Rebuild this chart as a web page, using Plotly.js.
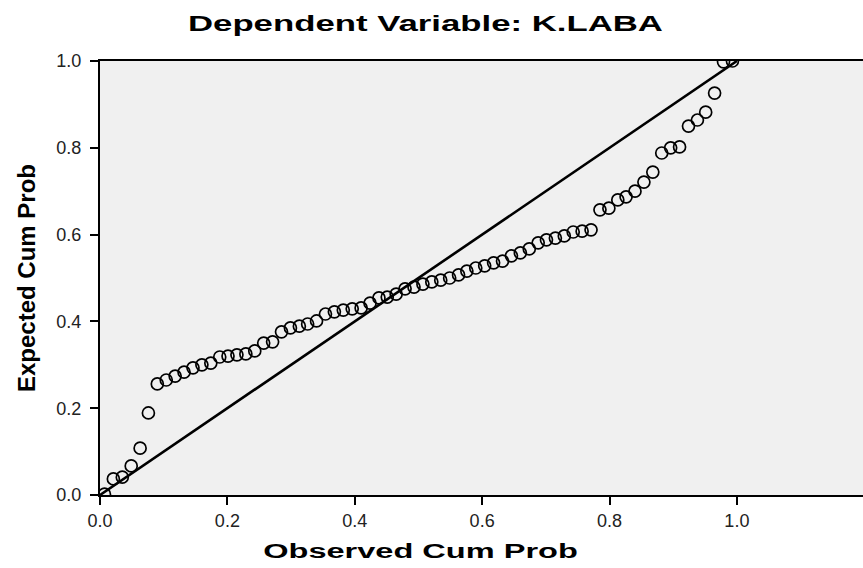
<!DOCTYPE html>
<html>
<head>
<meta charset="utf-8">
<script src="https://cdn.plot.ly/plotly-3.0.1.min.js"></script>
<style>
  html, body { margin: 0; padding: 0; background: #fff; }
  #chart { width: 863px; height: 568px; }
  .gtitle { transform-box: fill-box; transform-origin: center; transform: scaleX(1.58); }
  .xstretch .annotation-text { transform-box: fill-box; transform-origin: center; transform: scaleX(1.55); }
</style>
</head>
<body>
<div id="chart" class="xstretch"></div>
<script>
// Observed cumulative probability (x) for each residual
const observedCumProb = [
  0.007, 0.021, 0.035, 0.049, 0.063, 0.076, 0.090, 0.104, 0.118, 0.132,
  0.146, 0.160, 0.174, 0.188, 0.201, 0.215, 0.229, 0.243, 0.257, 0.271,
  0.285, 0.299, 0.313, 0.326, 0.340, 0.354, 0.368, 0.382, 0.396, 0.410,
  0.424, 0.438, 0.451, 0.465, 0.479, 0.493, 0.507, 0.521, 0.535, 0.549,
  0.563, 0.576, 0.590, 0.604, 0.618, 0.632, 0.646, 0.660, 0.674, 0.688,
  0.701, 0.715, 0.729, 0.743, 0.757, 0.771, 0.785, 0.799, 0.813, 0.826,
  0.840, 0.854, 0.868, 0.882, 0.896, 0.910, 0.924, 0.938, 0.951, 0.965,
  0.979, 0.993
];
// Expected cumulative probability (y)
const expectedCumProb = [
  0.002, 0.037, 0.041, 0.067, 0.108, 0.189, 0.256, 0.265, 0.274, 0.283,
  0.293, 0.300, 0.304, 0.318, 0.320, 0.323, 0.325, 0.332, 0.350, 0.353,
  0.376, 0.385, 0.389, 0.394, 0.401, 0.417, 0.422, 0.426, 0.429, 0.431,
  0.442, 0.454, 0.456, 0.463, 0.475, 0.479, 0.486, 0.491, 0.495, 0.500,
  0.507, 0.516, 0.523, 0.528, 0.535, 0.539, 0.551, 0.558, 0.567, 0.581,
  0.588, 0.592, 0.597, 0.606, 0.608, 0.611, 0.657, 0.661, 0.680, 0.687,
  0.700, 0.721, 0.744, 0.788, 0.800, 0.802, 0.850, 0.864, 0.882, 0.926,
  0.998, 1.000
];
// Reference (diagonal) line
const refLineX = [0, 1];
const refLineY = [0, 1];
// Tick labels
const tickValues = [0, 0.2, 0.4, 0.6, 0.8, 1.0];
const tickLabels = ["0.0", "0.2", "0.4", "0.6", "0.8", "1.0"];

const traces = [
  {
    x: refLineX, y: refLineY, type: 'scatter', mode: 'lines',
    line: { color: '#000', width: 2.6 }, hoverinfo: 'skip', showlegend: false
  },
  {
    x: observedCumProb, y: expectedCumProb, type: 'scatter', mode: 'markers',
    marker: { symbol: 'circle-open', size: 12, color: '#000', line: { color: '#000', width: 1.7 } },
    showlegend: false
  }
];

const tickFont = { family: 'Liberation Sans, Arial, sans-serif', size: 18, color: '#222' };

const layout = {
  width: 863, height: 568,
  margin: { l: 100, r: 0, t: 61, b: 73, pad: 0 },
  paper_bgcolor: '#ffffff',
  plot_bgcolor: '#f0f0f0',
  title: {
    text: '<b>Dependent Variable: K.LABA</b>',
    font: { family: 'Liberation Sans, Arial, sans-serif', size: 22, color: '#000' },
    xref: 'container', x: 0.493, xanchor: 'center',
    yref: 'container', y: 1 - 23 / 568, yanchor: 'middle'
  },
  xaxis: {
    range: [0, 1.198], autorange: false,
    tickvals: tickValues, ticktext: tickLabels,
    ticks: 'outside', ticklen: 8, tickwidth: 2, tickcolor: '#000',
    showline: true, linecolor: '#000', linewidth: 2, mirror: true,
    showgrid: false, zeroline: false,
    tickfont: tickFont
  },
  yaxis: {
    range: [0, 1], autorange: false,
    tickvals: tickValues, ticktext: tickLabels,
    ticks: 'outside', ticklen: 8, tickwidth: 2, tickcolor: '#000',
    showline: true, linecolor: '#000', linewidth: 2,
    showgrid: false, zeroline: false,
    ticklabelstandoff: 5,
    tickfont: tickFont,
    title: {
      text: '<b>Expected Cum Prob</b>',
      font: { family: 'Liberation Sans, Arial, sans-serif', size: 24, color: '#000' },
      standoff: 14
    }
  },
  annotations: [
    {
      text: '<b>Observed Cum Prob</b>',
      xref: 'paper', yref: 'paper',
      x: (420 - 100) / 763, y: (495 - 550) / 434,
      xanchor: 'center', yanchor: 'middle', showarrow: false,
      font: { family: 'Liberation Sans, Arial, sans-serif', size: 21, color: '#000' }
    }
  ]
};

Plotly.newPlot('chart', traces, layout, { displayModeBar: false, staticPlot: true });
</script>
</body>
</html>
